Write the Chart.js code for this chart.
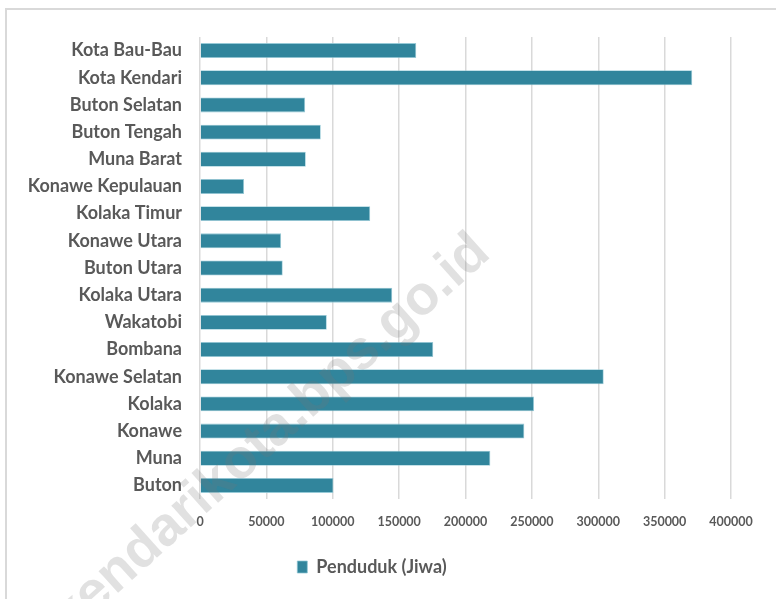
<!DOCTYPE html>
<html>
<head>
<meta charset="utf-8">
<script src="https://cdn.jsdelivr.net/npm/chart.js@4/dist/chart.umd.min.js"></script>
<style>
  html, body { margin: 0; padding: 0; background: #fff; }
  #wrap { width: 776px; height: 599px; position: relative; }
</style>
</head>
<body>
<div id="wrap"><canvas id="grafik"></canvas></div>
<script>
// Data jumlah penduduk per kabupaten/kota (urutan dari atas ke bawah)
const kabupatenKota = [
  "Kota Bau-Bau", "Kota Kendari", "Buton Selatan", "Buton Tengah", "Muna Barat",
  "Konawe Kepulauan", "Kolaka Timur", "Konawe Utara", "Buton Utara", "Kolaka Utara",
  "Wakatobi", "Bombana", "Konawe Selatan", "Kolaka", "Konawe", "Muna", "Buton"
];
const penduduk = [
  162900, 370800, 79200, 91000, 79700,
  33200, 128200, 61100, 62300, 144800,
  95500, 175700, 304100, 251600, 244300, 218700, 100500
];
const tickNilai = [0, 50000, 100000, 150000, 200000, 250000, 300000, 350000, 400000];

const FONT = "Lato, 'Open Sans', sans-serif";
const WARNA_TEKS = "#595959";
const WARNA_BAR = "#31859C";

// bingkai abu-abu area grafik (gaya Excel)
const bingkai = {
  id: "bingkai",
  beforeDraw(chart) {
    const c = chart.ctx;
    c.save();
    c.strokeStyle = "#d9d9d9";
    c.lineWidth = 2;
    c.strokeRect(6, 9, chart.width + 10, chart.height + 10);
    c.restore();
  }
};

// tanda air diagonal
const tandaAir = {
  id: "tandaAir",
  afterDraw(chart) {
    const c = chart.ctx;
    c.save();
    c.translate(281, 446);
    c.rotate(-42 * Math.PI / 180);
    c.font = "bold 55px 'Liberation Sans', Arial, sans-serif";
    c.fillStyle = "rgba(120,120,120,0.22)";
    c.textAlign = "center";
    c.textBaseline = "alphabetic";
    c.fillText("kendarikota.bps.go.id", 0, 0);
    c.restore();
  }
};

new Chart(document.getElementById("grafik").getContext("2d"), {
  type: "bar",
  data: {
    labels: kabupatenKota,
    datasets: [{
      label: "Penduduk (Jiwa)",
      data: penduduk,
      backgroundColor: WARNA_BAR,
      borderColor: "rgba(140,196,211,0.9)",
      borderWidth: 0.8,
      categoryPercentage: 1,
      barPercentage: 0.55
    }]
  },
  options: {
    indexAxis: "y",
    responsive: true,
    maintainAspectRatio: false,
    animation: false,
    layout: { padding: { left: 13, right: 45, top: 37, bottom: 13 } },
    scales: {
      x: {
        min: 0,
        max: 400000,
        afterBuildTicks: (s) => { s.ticks = tickNilai.map(v => ({ value: v })); },
        afterFit: (s) => { s.height = 49; },
        grid: { color: "#d9d9d9", lineWidth: 1.5, drawTicks: false },
        border: { display: false },
        ticks: {
          padding: 15,
          maxRotation: 0,
          color: WARNA_TEKS,
          font: { family: FONT, size: 12.5, weight: "bold" },
          callback: (v) => String(v)
        }
      },
      y: {
        afterFit: (s) => { s.width = 187; },
        grid: { display: false, drawTicks: false },
        border: { display: false },
        ticks: {
          padding: 18,
          color: WARNA_TEKS,
          font: { family: FONT, size: 18, weight: "bold" }
        }
      }
    },
    plugins: {
      legend: {
        position: "bottom",
        labels: {
          boxWidth: 10,
          boxHeight: 12,
          padding: 10,
          color: WARNA_TEKS,
          font: { family: FONT, size: 18, weight: "bold" }
        }
      },
      tooltip: { enabled: false }
    }
  },
  plugins: [bingkai, tandaAir]
});
</script>
</body>
</html>
